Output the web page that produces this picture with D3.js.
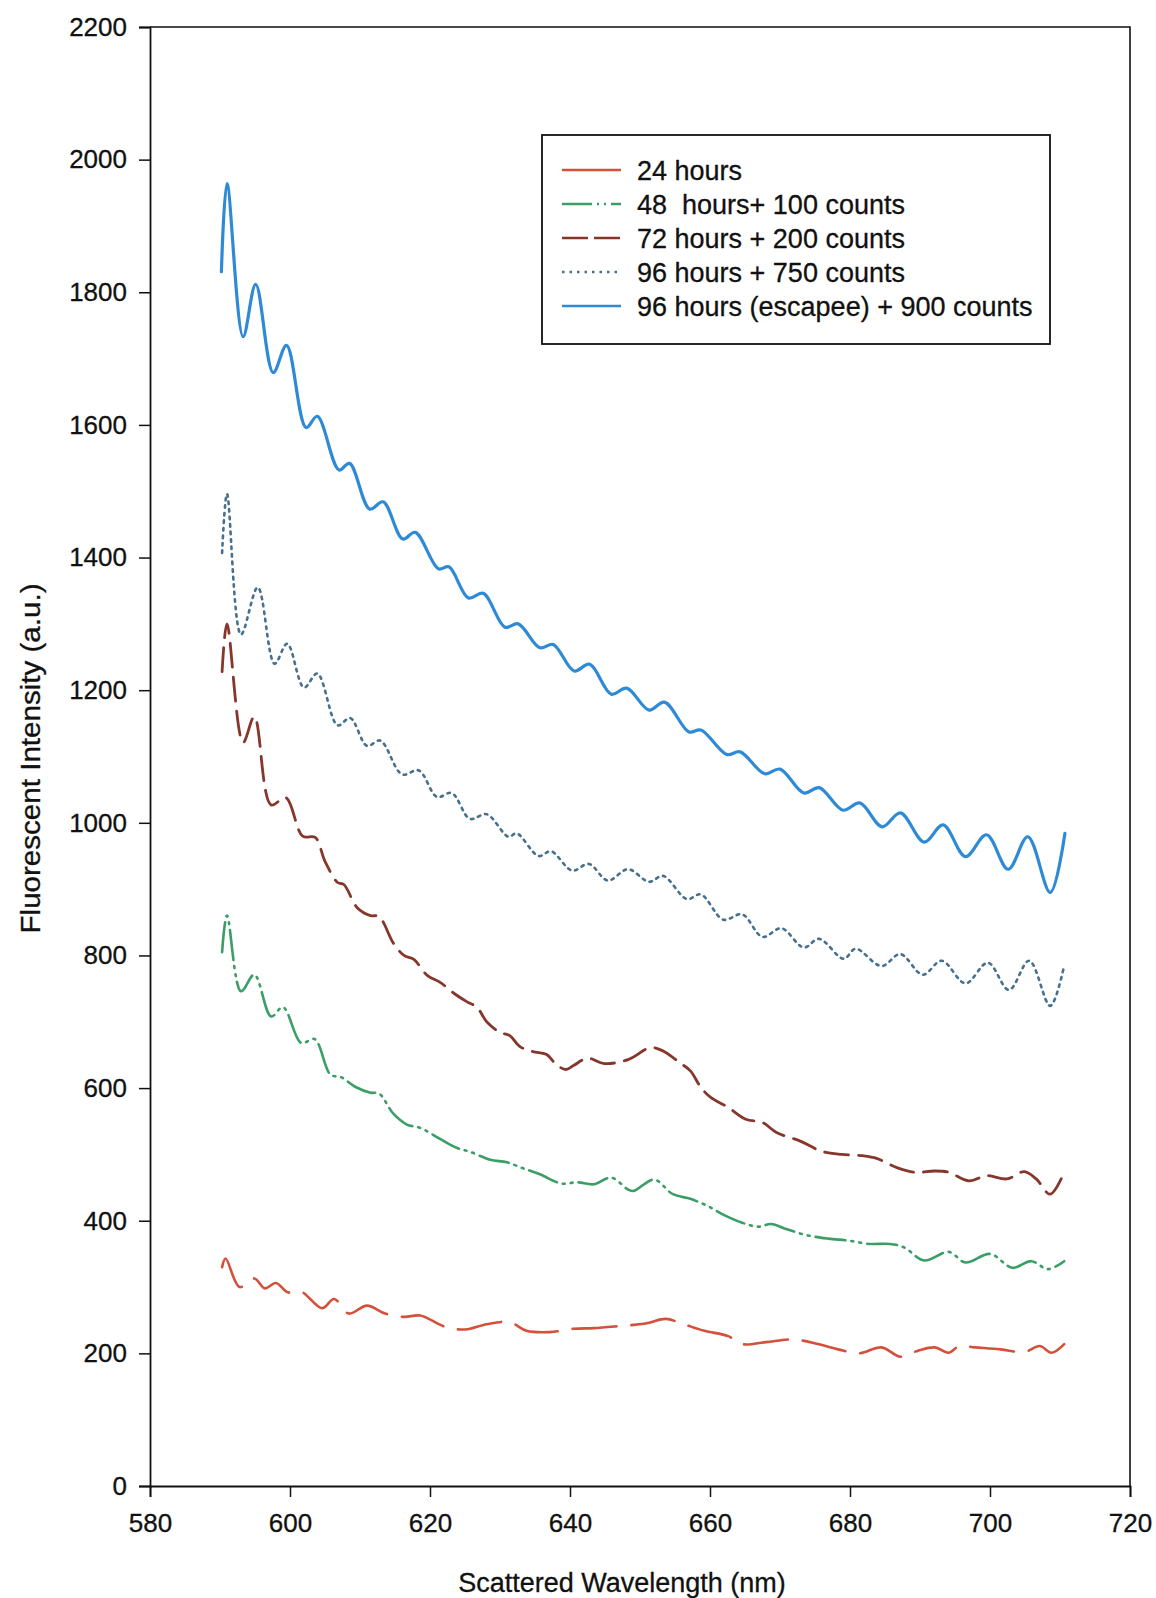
<!DOCTYPE html>
<html>
<head>
<meta charset="utf-8">
<script src="https://cdn.jsdelivr.net/npm/d3@7"></script>
<style>
  body { margin: 0; background: #fff; }
  svg { font-family: 'Liberation Sans', Arial, sans-serif; }
</style>
</head>
<body>
<svg id="fig" width="1156" height="1598"></svg>
<script>
// tick values
const xTicks = [580, 600, 620, 640, 660, 680, 700, 720];
const yTicks = [0, 200, 400, 600, 800, 1000, 1200, 1400, 1600, 1800, 2000, 2200];

const seriesNames = ['24 hours', '48  hours+ 100 counts', '72 hours + 200 counts', '96 hours + 750 counts', '96 hours (escapee) + 900 counts'];

// 24 hours
const h24Nm = [590.3, 590.8, 592.8, 594.9, 596.4, 598.0, 599.7, 601.6, 604.6, 606.3, 608.4, 611.0, 613.6, 616.3, 618.6, 622.2, 625.0, 628.1, 631.4, 633.8, 637.1, 640.5, 643.4, 646.9, 650.8, 653.7, 656.2, 659.2, 662.6, 664.6, 668.0, 671.9, 675.4, 678.3, 681.3, 684.5, 687.2, 689.7, 692.1, 694.1, 695.6, 697.9, 701.5, 704.9, 707.1, 708.8, 710.6];
const h24Val = [330, 343, 300, 313, 298, 306, 292, 293, 268, 282, 260, 272, 260, 255, 257, 240, 236, 244, 247, 234, 232, 237, 238, 241, 245, 252, 244, 234, 226, 214, 217, 221, 214, 206, 200, 209, 195, 204, 209, 201, 211, 209, 206, 202, 211, 201, 214];

// 48 hours + 100
const h48Nm = [590.3, 591.0, 593.0, 594.9, 597.3, 599.0, 601.6, 603.5, 605.8, 607.2, 609.3, 611.5, 612.7, 614.8, 616.7, 618.6, 621.5, 623.8, 625.7, 628.6, 631.0, 633.3, 635.7, 638.8, 641.0, 643.4, 645.9, 648.3, 649.1, 652.0, 654.7, 657.2, 659.7, 662.1, 664.6, 667.0, 668.7, 671.0, 673.9, 676.9, 679.8, 682.8, 685.7, 687.7, 690.6, 694.1, 696.5, 700.0, 703.2, 705.9, 708.3, 710.6];
const h48Val = [805, 860, 746, 771, 708, 722, 668, 674, 620, 617, 602, 593, 592, 561, 545, 540, 523, 510, 504, 492, 488, 479, 470, 456, 458, 455, 465, 447, 445, 462, 440, 433, 422, 408, 397, 391, 395, 387, 378, 373, 370, 365, 365, 360, 340, 353, 337, 350, 329, 339, 327, 339];

// 72 hours + 200
const h72Nm = [590.3, 591.0, 593.3, 594.9, 597.3, 599.4, 601.8, 603.6, 605.0, 606.8, 607.7, 609.6, 611.5, 612.7, 614.8, 616.3, 617.7, 619.6, 621.5, 623.4, 625.3, 626.7, 628.1, 630.0, 631.4, 632.8, 634.7, 636.6, 638.0, 639.4, 640.5, 642.5, 644.9, 648.3, 651.5, 653.3, 655.7, 657.2, 658.7, 660.1, 662.6, 665.1, 667.5, 669.5, 672.9, 675.9, 678.8, 681.8, 683.8, 686.7, 689.2, 692.1, 694.1, 697.0, 699.5, 702.4, 704.9, 706.6, 708.6, 710.6];
const h72Val = [1228, 1300, 1121, 1160, 1027, 1038, 980, 978, 942, 910, 907, 872, 860, 859, 818, 800, 794, 770, 759, 743, 730, 722, 700, 684, 679, 663, 655, 651, 636, 628, 634, 645, 637, 643, 661, 656, 638, 626, 601, 586, 571, 553, 548, 533, 520, 505, 500, 498, 494, 480, 473, 475, 473, 460, 468, 463, 474, 463, 440, 473];

// 96 hours + 750
const h96Nm = [590.3, 591.0, 593.0, 595.4, 597.8, 599.6, 602.0, 603.9, 606.8, 608.6, 611.0, 612.9, 616.0, 618.4, 621.0, 623.1, 625.7, 628.1, 631.2, 632.4, 635.5, 637.3, 640.3, 642.7, 645.4, 648.3, 651.3, 653.3, 656.7, 658.7, 661.9, 664.6, 667.5, 670.2, 673.4, 675.6, 679.1, 680.8, 684.5, 687.2, 690.4, 693.1, 696.5, 699.7, 702.7, 705.6, 708.6, 710.6];
const h96Val = [1407, 1496, 1284, 1355, 1240, 1270, 1204, 1225, 1147, 1158, 1116, 1124, 1073, 1079, 1039, 1045, 1006, 1013, 979, 984, 950, 957, 928, 938, 913, 930, 911, 920, 885, 892, 854, 862, 828, 841, 812, 825, 795, 810, 784, 802, 771, 792, 758, 789, 748, 792, 724, 785];

// 96 hours escapee + 900
const escNm = [590.2, 591.0, 593.3, 595.1, 597.6, 599.5, 602.3, 603.9, 607.0, 608.5, 611.4, 613.3, 616.1, 617.9, 621.2, 622.7, 625.5, 627.6, 630.7, 632.6, 635.7, 637.6, 640.6, 642.8, 645.9, 648.1, 651.3, 653.5, 657.0, 658.7, 662.4, 664.3, 667.8, 670.0, 673.4, 675.6, 679.0, 681.4, 684.6, 687.2, 690.6, 693.3, 696.5, 699.5, 702.6, 705.4, 708.6, 710.7];
const escVal = [1831, 1964, 1733, 1812, 1679, 1720, 1596, 1613, 1532, 1542, 1473, 1484, 1428, 1438, 1383, 1386, 1339, 1346, 1295, 1300, 1264, 1269, 1229, 1239, 1194, 1203, 1170, 1182, 1137, 1140, 1103, 1107, 1074, 1081, 1045, 1053, 1019, 1030, 994, 1015, 971, 997, 949, 982, 930, 979, 895, 984];

const draw = () => {
    const svg = d3.select('#fig');
    const margin = { top: 27, left: 150, right: 26, bottom: 112 };
    const width = +svg.attr('width');
    const height = +svg.attr('height');
    const innerWidth = width - margin.left - margin.right;
    const innerHeight = height - margin.top - margin.bottom;

    const xScale = d3.scaleLinear().domain([580, 720]).range([0, innerWidth]);
    const yScale = d3.scaleLinear().domain([0, 2200]).range([innerHeight, 0]);

    const series = [
        { name: seriesNames[0], nm: h24Nm, val: h24Val, color: '#d4503b', dash: '44,15', width: 2.6 },
        { name: seriesNames[1], nm: h48Nm, val: h48Val, color: '#3b9e66', dash: '30,6,2,6,2,6', width: 2.6 },
        { name: seriesNames[2], nm: h72Nm, val: h72Val, color: '#86362a', dash: '24,10', width: 2.8 },
        { name: seriesNames[3], nm: h96Nm, val: h96Val, color: '#46708e', dash: '2.5,5', width: 2.6 },
        { name: seriesNames[4], nm: escNm, val: escVal, color: '#2f8ad6', dash: null, width: 3.2 }
    ];

    const g = svg.append('g').attr('transform', `translate(${margin.left}, ${margin.top})`);

    // frame
    g.append('path')
        .attr('d', `M0,0H${innerWidth}V${innerHeight}`)
        .attr('fill', 'none').attr('stroke', '#111').attr('stroke-width', 1.6);

    const xAxisGroup = g.append('g')
        .attr('transform', `translate(0, ${innerHeight})`)
        .call(d3.axisBottom(xScale).tickValues(xTicks).tickSize(11).tickPadding(17).tickFormat(d3.format('d')));
    const yAxisGroup = g.append('g')
        .call(d3.axisLeft(yScale).tickValues(yTicks).tickSize(11).tickPadding(12).tickFormat(d3.format('d')));

    [xAxisGroup, yAxisGroup].forEach(a => {
        a.select('.domain').attr('stroke', '#111').attr('stroke-width', 1.8);
        a.selectAll('.tick line').attr('stroke', '#111').attr('stroke-width', 1.5);
        a.selectAll('.tick text').attr('font-size', '26px').attr('fill', '#111')
            .attr('stroke', '#111').attr('stroke-width', 0.3)
            .attr('font-family', "'Liberation Sans', Arial, sans-serif");
    });

    const line = d3.line()
        .x(d => xScale(d[0]))
        .y(d => yScale(d[1]))
        .curve(d3.curveCatmullRom.alpha(0.5));

    g.selectAll('.series').data(series).join('path')
        .attr('class', 'series')
        .attr('d', s => line(d3.zip(s.nm, s.val)))
        .attr('fill', 'none')
        .attr('stroke', s => s.color)
        .attr('stroke-width', s => s.width)
        .attr('stroke-dasharray', s => s.dash)
        .attr('stroke-linecap', 'round');

    // legend
    const legend = svg.append('g').attr('transform', 'translate(542, 135)');
    legend.append('rect')
        .attr('width', 508).attr('height', 209)
        .attr('fill', '#fff').attr('stroke', '#111').attr('stroke-width', 1.8);
    const rows = legend.selectAll('.legend').data(series).join('g')
        .attr('class', 'legend')
        .attr('transform', (d, i) => `translate(0, ${35 + i * 34})`);
    rows.append('line')
        .attr('x1', 20).attr('x2', 79).attr('y1', 0).attr('y2', 0)
        .attr('stroke', d => d.color)
        .attr('stroke-width', 2.4)
        .attr('stroke-dasharray', (d, i) => ['', '30,5,2,5,2,5', '26,6', '2.5,5', ''][i]);
    rows.append('text')
        .attr('x', 95).attr('y', 0).attr('dy', '0.36em')
        .attr('font-size', '27px').attr('fill', '#111')
        .attr('stroke', '#111').attr('stroke-width', 0.3)
        .style('white-space', 'pre')
        .text(d => d.name);

    // axis titles
    svg.append('text')
        .attr('x', 622).attr('y', 1592)
        .attr('text-anchor', 'middle').attr('font-size', '27px').attr('fill', '#111')
        .attr('stroke', '#111').attr('stroke-width', 0.3)
        .text('Scattered Wavelength (nm)');
    svg.append('text')
        .attr('transform', `translate(40, ${margin.top + innerHeight / 2 + 2}) rotate(-90)`)
        .attr('text-anchor', 'middle').attr('font-size', '27px').attr('fill', '#111')
        .attr('stroke', '#111').attr('stroke-width', 0.3)
        .attr('textLength', 350).attr('lengthAdjust', 'spacingAndGlyphs')
        .text('Fluorescent Intensity (a.u.)');
};
draw();
</script>
</body>
</html>
